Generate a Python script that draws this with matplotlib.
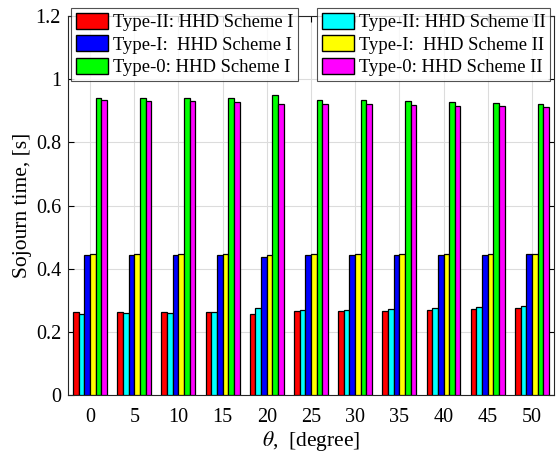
import matplotlib
matplotlib.use("Agg")
import matplotlib.pyplot as plt
import numpy as np
from matplotlib.patches import Patch

plt.rcParams["font.family"] = ["Liberation Serif", "DejaVu Serif"]
plt.rcParams["mathtext.fontset"] = "stix"

theta = [0, 5, 10, 15, 20, 25, 30, 35, 40, 45, 50]

type2_s1 = [0.263, 0.263, 0.263, 0.263, 0.256, 0.265, 0.266, 0.267, 0.269, 0.272, 0.275]
type2_s2 = [0.256, 0.259, 0.261, 0.263, 0.275, 0.268, 0.270, 0.273, 0.276, 0.278, 0.281]
type1_s1 = [0.443, 0.443, 0.443, 0.443, 0.436, 0.443, 0.443, 0.444, 0.444, 0.444, 0.445]
type1_s2 = [0.446, 0.446, 0.446, 0.446, 0.443, 0.446, 0.446, 0.446, 0.446, 0.446, 0.446]
type0_s1 = [0.940, 0.940, 0.940, 0.939, 0.951, 0.935, 0.933, 0.931, 0.929, 0.925, 0.921]
type0_s2 = [0.934, 0.932, 0.931, 0.928, 0.921, 0.923, 0.920, 0.918, 0.916, 0.914, 0.911]

series = [
    (type2_s1, "#ff0000", "Type-II: HHD Scheme I"),
    (type2_s2, "#00ffff", "Type-II: HHD Scheme II"),
    (type1_s1, "#0000ff", "Type-I:  HHD Scheme I"),
    (type1_s2, "#ffff00", "Type-I:  HHD Scheme II"),
    (type0_s1, "#00ff00", "Type-0: HHD Scheme I"),
    (type0_s2, "#ff00ff", "Type-0: HHD Scheme II"),
]

fig = plt.figure(figsize=(5.56, 4.53), dpi=100)
ax = fig.add_axes([0.1223, 0.128, 0.874, 0.8366])

x = np.array(theta, dtype=float)
w = 0.64
for i, (vals, color, label) in enumerate(series):
    ax.bar(x + (i - 2.5) * w, vals, width=w, color=color,
           edgecolor="black", linewidth=0.9, zorder=3)

ax.set_xlim(-2.5, 52.5)
ax.set_ylim(0, 1.2)
ax.set_xticks(theta)
ax.set_yticks([0, 0.2, 0.4, 0.6, 0.8, 1.0, 1.2])
ax.set_yticklabels(["0", "0.2", "0.4", "0.6", "0.8", "1", "1.2"])
ax.grid(True, color="#dcdcdc", linewidth=0.8, zorder=0)
ax.tick_params(direction="in", labelsize=14.5, length=4, top=True, right=True,
               labeltop=False, labelright=False)
ax.tick_params(axis="x", pad=9)
ax.tick_params(axis="y", pad=5)
for sp in ax.spines.values():
    sp.set_linewidth(0.8)
    sp.set_color("#262626")

ax.set_xlabel(r"$\theta$,  [degree]", fontsize=15.5, labelpad=2)
ax.set_ylabel("Sojourn time, [s]", fontsize=15.5, labelpad=3)

left_handles = [Patch(facecolor=series[k][1], edgecolor="black", label=series[k][2]) for k in (0, 2, 4)]
right_handles = [Patch(facecolor=series[k][1], edgecolor="black", label=series[k][2]) for k in (1, 3, 5)]

leg_kw = dict(fontsize=13.4, frameon=True, fancybox=False, edgecolor="#262626",
              handlelength=1.75, handleheight=0.95, handletextpad=0.25,
              labelspacing=0.22, borderpad=0.25, borderaxespad=0.0)
leg1 = fig.legend(handles=left_handles, loc="upper left",
                  bbox_to_anchor=(71 / 556, 1 - 8 / 453), **leg_kw)
leg2 = fig.legend(handles=right_handles, loc="upper left",
                  bbox_to_anchor=(317 / 556, 1 - 8 / 453), **leg_kw)
for leg in (leg1, leg2):
    leg.get_frame().set_linewidth(0.8)

fig.savefig("out.png", dpi=100)
